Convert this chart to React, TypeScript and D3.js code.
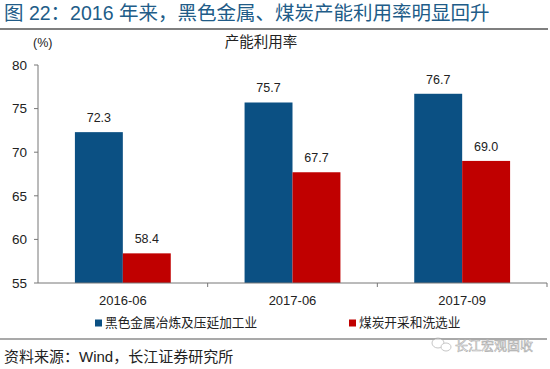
import React from 'react'
import * as d3 from 'd3'

const categories = ['2016-06', '2017-06', '2017-09']
const seriesNames = ['黑色金属冶炼及压延加工业', '煤炭开采和洗选业']
const ferrousValues = [72.3, 75.7, 76.7]
const coalValues = [58.4, 67.7, 69.0]
const yTicks = [55, 60, 65, 70, 75, 80]
const colors = ['#0b5083', '#c00000']

const width = 550,
    height = 369

const latin = '"Liberation Sans", Arial, sans-serif'
const cjk = '"Liberation Sans", "Noto Sans CJK SC", sans-serif'

const App: React.FC = () => {
    // Defining the scales
    const x0 = d3.scaleBand(categories, [38, 547]).padding(0)
    const x1 = d3.scaleBand(seriesNames, [0, x0.bandwidth()]).paddingInner(0).paddingOuter(0.77)
    const y = d3.scaleLinear([55, 80], [283, 65])

    const series = [ferrousValues, coalValues]

    return <svg width={width} height={height} style={{ position: 'absolute', left: 0, top: 0, background: '#fff' }}>
        {/* Title */}
        <text x={4} y={20} fontSize={19.5} fill='#215c88' fontFamily={cjk}>图 22：2016 年来，黑色金属、煤炭产能利用率明显回升</text>
        <line x1={0} x2={548} y1={29} y2={29} stroke='#555' strokeWidth={1.5} />

        <text x={33} y={47} fontSize={12.5} fill='#222' fontFamily={cjk}>(%)</text>
        <text x={261} y={47} fontSize={14.5} fill='#222' textAnchor='middle' fontFamily={cjk}>产能利用率</text>

        {/* y axis */}
        <line x1={38} x2={38} y1={y(80)} y2={y(55)} stroke='#777' />
        {yTicks.map(t => <g key={t}>
            <line x1={34} x2={38} y1={y(t)} y2={y(t)} stroke='#777' />
            <text x={27} y={y(t)} dy='0.35em' fontSize={13.5} textAnchor='end' fill='#222' fontFamily={latin}>{t}</text>
        </g>)}

        {/* bars */}
        {series.map((vals, si) => vals.map((v, ci) => {
            const bx = x0(categories[ci]) + x1(seriesNames[si])
            return <g key={si + '-' + ci}>
                <rect x={bx} y={y(v)} width={x1.bandwidth()} height={y(55) - y(v)} fill={colors[si]} />
                <text x={bx + x1.bandwidth() / 2} y={y(v) - 10} fontSize={12.5} textAnchor='middle' fill='#222' fontFamily={latin}>{v.toFixed(1)}</text>
            </g>
        }))}

        {/* x axis */}
        <line x1={38} x2={547} y1={283} y2={283} stroke='#777' />
        {[...categories.map(c => x0(c)), 547].map((t, i) => i > 0 ? <line key={i} x1={t} x2={t} y1={283} y2={287} stroke='#777' /> : null)}
        {categories.map(c => <text key={c} x={x0(c) + x0.bandwidth() / 2} y={300} dy='0.35em' fontSize={13} textAnchor='middle' fill='#222' fontFamily={latin}>{c}</text>)}

        {/* legend */}
        {seriesNames.map((s, i) => {
            const lx = i === 0 ? 95 : 349
            return <g key={s}>
                <rect x={lx} y={319.5} width={7} height={7} fill={colors[i]} />
                <text x={lx + 10} y={323} dy='0.35em' fontSize={12.7} fill='#222' fontFamily={cjk}>{s}</text>
            </g>
        })}
        <line x1={0} x2={547} y1={339} y2={339} stroke='#555' strokeWidth={1.2} />

        {/* watermark */}
        <g opacity={0.55} stroke='#999' fill='#fff'>
            <ellipse cx={438} cy={343} rx={6} ry={5} />
            <ellipse cx={446} cy={347} rx={5} ry={4} />
        </g>
        <text x={455} y={345} dy='0.35em' fontSize={13} fill='#fff' stroke='#aaa' strokeWidth={0.6} fontFamily={cjk}>长江宏观固收</text>

        {/* source */}
        <text x={4} y={357} dy='0.35em' fontSize={15} fill='#222' fontFamily={cjk}>资料来源：Wind，长江证券研究所</text>
    </svg>
}

export default App
